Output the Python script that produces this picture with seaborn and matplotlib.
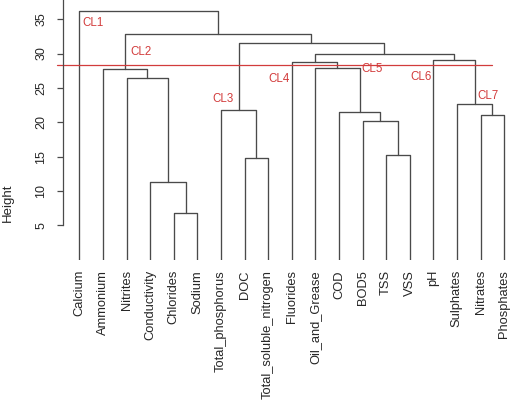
import numpy as np
import pandas as pd
import matplotlib
matplotlib.use("Agg")
import matplotlib.pyplot as plt
import seaborn as sns

# leaves in plotting order (R hclust, hang = -1)
labels = ["Calcium", "Ammonium", "Nitrites", "Conductivity", "Chlorides", "Sodium",
          "Total_phosphorus", "DOC", "Total_soluble_nitrogen", "Fluorides",
          "Oil_and_Grease", "COD", "BOD5", "TSS", "VSS", "pH", "Sulphates",
          "Nitrates", "Phosphates"]

# merge table like hclust$merge: negative = leaf (1-based), positive = earlier merge
merge_left = [-5, -4, -8, -14, -13, -18, -12, -7, -17, -3, -2, -11, -10, -16, 13, 8, 11, -1]
merge_right = [-6, 1, -9, -15, 4, -19, 5, 3, 6, 2, 10, 7, 12, 9, 14, 15, 16, 17]
heights = [6.75, 11.26, 14.75, 15.23, 20.23, 21.10, 21.54, 21.80, 22.66, 26.50,
           27.75, 27.94, 28.73, 29.06, 29.93, 31.50, 32.85, 36.15]

cut_height = 28.4
cluster_names = ["CL1", "CL2", "CL3", "CL4", "CL5", "CL6", "CL7"]

# where the cluster tags sit (x in leaf units, y in height units)
tag_pos = [(1.56, 34.5), (3.61, 30.2), (7.1, 23.4), (9.47, 26.3),
           (13.42, 27.7), (15.46, 26.6), (18.32, 23.8)]

sns.set_style("white")
plt.rcParams["font.family"] = ["Liberation Sans", "DejaVu Sans"]

line_col = "#4a4a4a"
red = "#d23c3c"

# build the link segments
leaf_x = {i + 1: float(i + 1) for i in range(len(labels))}
node_x, node_h = {}, {}


def child(c):
    if c < 0:
        return leaf_x[-c], 0.0
    return node_x[c], node_h[c]


rows = []
for k, (a, b, h) in enumerate(zip(merge_left, merge_right, heights), start=1):
    xa, ha = child(a)
    xb, hb = child(b)
    node_x[k] = (xa + xb) / 2
    node_h[k] = h
    for j, (px, py) in enumerate([(xa, ha), (xa, h), (xb, h), (xb, hb)]):
        rows.append({"link": k, "order": j, "x": px, "y": py})
segs = pd.DataFrame(rows)

fig = plt.figure(figsize=(5.16, 4.03), dpi=100)
ax = fig.add_axes([0.1221, 0.3557, 0.8779, 0.6443])

sns.lineplot(data=segs, x="x", y="y", units="link", estimator=None, sort=False,
             color=line_col, linewidth=0.95, ax=ax, legend=False)

ax.set_xlim(0.309, 19.504)
ax.set_ylim(0, 37.79)

# cut line and cluster tags
ax.plot([0.042, 18.47], [cut_height, cut_height], color=red, linewidth=0.9, clip_on=False)
for name, (tx, ty) in zip(cluster_names, tag_pos):
    ax.text(tx, ty, name, color=red, fontsize=8.3, ha="center", va="center")

# axes styling like base R
for s in ["top", "right", "bottom"]:
    ax.spines[s].set_visible(False)
ax.spines["left"].set_bounds(5, 37.79)
ax.spines["left"].set_color(line_col)
ax.spines["left"].set_linewidth(0.9)

ax.set_yticks([5, 10, 15, 20, 25, 30, 35])
ax.tick_params(axis="y", left=True, length=4.3, width=0.9, color=line_col,
               labelsize=9, pad=7)
for t in ax.get_yticklabels():
    t.set_rotation(90)
    t.set_va("center")

ax.set_xticks(range(1, len(labels) + 1))
ax.set_xticklabels(labels, rotation=90, fontsize=9.3)
ax.tick_params(axis="x", bottom=False, length=0, pad=7.5)

ax.set_xlabel("")
ax.set_ylabel("")
ax.text(-0.1208, 0.22, "Height", rotation=90, fontsize=9.5,
        ha="center", va="center", transform=ax.transAxes)

fig.savefig("out.png", dpi=100)
